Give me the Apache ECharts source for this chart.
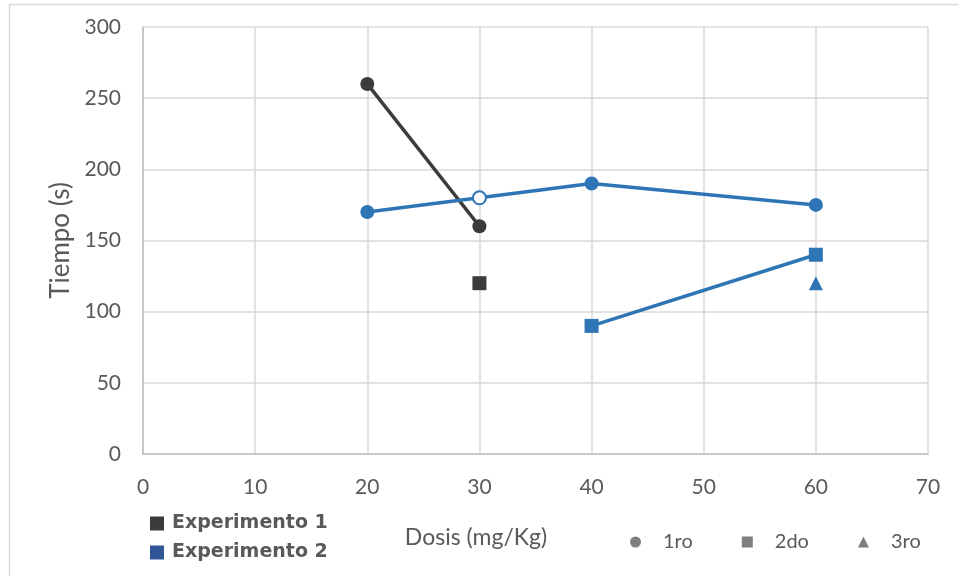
<!DOCTYPE html>
<html><head><meta charset="utf-8">
<script src="https://cdn.jsdelivr.net/npm/echarts@6/dist/echarts.min.js"></script>
<style>html,body{margin:0;padding:0;background:#fff}#c{width:958px;height:576px}</style>
</head><body><div id="c"></div>
<script>
const xTicks = [0, 10, 20, 30, 40, 50, 60, 70];
const yTicks = [0, 50, 100, 150, 200, 250, 300];
const exp1_1ro = [[20, 260], [30, 160]];
const exp1_2do = [[30, 120]];
const exp2_1ro = [[20, 170], [30, 180], [40, 190], [60, 175]];
const exp2_1ro_hollowX = 30;
const exp2_2do = [[40, 90], [60, 140]];
const exp2_3ro = [[60, 120]];
const groupNames = ['Experimento 1', 'Experimento 2'];
const orderNames = ['1ro', '2do', '3ro'];

const C1 = '#3b3b3b', C2 = '#2e75b6', C2L = '#2f5597', GRAY = '#7f7f7f';
const font = 'Lato, "Open Sans", sans-serif';

const chart = echarts.init(document.getElementById('c'));
chart.setOption({
  animation: false,
  backgroundColor: '#fff',
  grid: { left: 143, right: 30, top: 27, bottom: 122 },
  graphic: [{ type: 'rect', shape: { x: 9.5, y: 4.5, width: 960, height: 600 },
    style: { fill: 'none', stroke: '#d9d9d9', lineWidth: 1.5 }, silent: true }],
  xAxis: {
    type: 'value', min: xTicks[0], max: xTicks[xTicks.length - 1], interval: 10,
    name: 'Dosis (mg/Kg)', nameLocation: 'middle', nameGap: 72,
    nameTextStyle: { fontFamily: font, fontSize: 23, color: '#595959', padding: [0, 119, 0, 0] },
    axisLine: { show: true, lineStyle: { color: '#bfbfbf', width: 1.5 } },
    axisTick: { show: false },
    axisLabel: { fontFamily: font, fontSize: 21, color: '#595959', margin: 23 },
    splitLine: { show: true, lineStyle: { color: '#d9d9d9', width: 1.5 } }
  },
  yAxis: {
    type: 'value', min: yTicks[0], max: yTicks[yTicks.length - 1], interval: 50,
    name: 'Tiempo (s)', nameLocation: 'middle', nameGap: 68,
    nameTextStyle: { fontFamily: font, fontSize: 26, color: '#595959' },
    axisLine: { show: true, lineStyle: { color: '#bfbfbf', width: 1.5 } },
    axisTick: { show: false },
    axisLabel: { fontFamily: font, fontSize: 21, color: '#595959', margin: 22 },
    splitLine: { show: true, lineStyle: { color: '#d9d9d9', width: 1.5 } }
  },
  legend: [
    { orient: 'vertical', left: 145, top: 509, itemGap: 10, itemWidth: 14, itemHeight: 14,
      data: groupNames.map(n => ({ name: n, icon: 'rect' })),
      textStyle: { fontFamily: '"DejaVu Sans", sans-serif', fontSize: 19, fontWeight: 'bold', color: '#595959', padding: [0, 0, 0, 3] } },
    { orient: 'horizontal', left: 625, top: 527, itemGap: 49, itemWidth: 11, itemHeight: 11,
      data: [{ name: orderNames[0], icon: 'circle' }, { name: orderNames[1], icon: 'rect' }, { name: orderNames[2], icon: 'triangle' }],
      textStyle: { fontFamily: font, fontSize: 20, color: '#595959', padding: [0, 0, 0, 17] } }
  ],
  series: [
    { name: groupNames[0], type: 'scatter', data: [], itemStyle: { color: C1, opacity: 1 } },
    { name: groupNames[1], type: 'scatter', data: [], itemStyle: { color: C2L, opacity: 1 } },
    { name: orderNames[0], type: 'scatter', data: [], itemStyle: { color: GRAY, opacity: 1 } },
    { name: orderNames[1], type: 'scatter', data: [], itemStyle: { color: GRAY, opacity: 1 } },
    { name: orderNames[2], type: 'scatter', data: [], itemStyle: { color: GRAY, opacity: 1 } },
    { name: 'E1 1ro', type: 'line', data: exp1_1ro, symbol: 'circle', symbolSize: 14,
      lineStyle: { color: C1, width: 3.5 }, itemStyle: { color: C1 }, z: 3 },
    { name: 'E1 2do', type: 'scatter', data: exp1_2do, symbol: 'rect', symbolSize: 14,
      itemStyle: { color: C1, opacity: 1 } },
    { name: 'E2 1ro', type: 'line', symbol: 'circle', symbolSize: 14,
      data: exp2_1ro.map(p => p[0] === exp2_1ro_hollowX
        ? { value: p, symbolSize: 13, itemStyle: { color: '#fff', borderColor: C2, borderWidth: 2 } }
        : { value: p }),
      lineStyle: { color: C2, width: 3.5 }, itemStyle: { color: C2 }, z: 4 },
    { name: 'E2 2do', type: 'line', data: exp2_2do, symbol: 'rect', symbolSize: 14,
      lineStyle: { color: C2, width: 3.5 }, itemStyle: { color: C2 } },
    { name: 'E2 3ro', type: 'scatter', data: exp2_3ro, symbol: 'triangle', symbolSize: 14,
      itemStyle: { color: C2, opacity: 1 } }
  ]
});
</script></body></html>
